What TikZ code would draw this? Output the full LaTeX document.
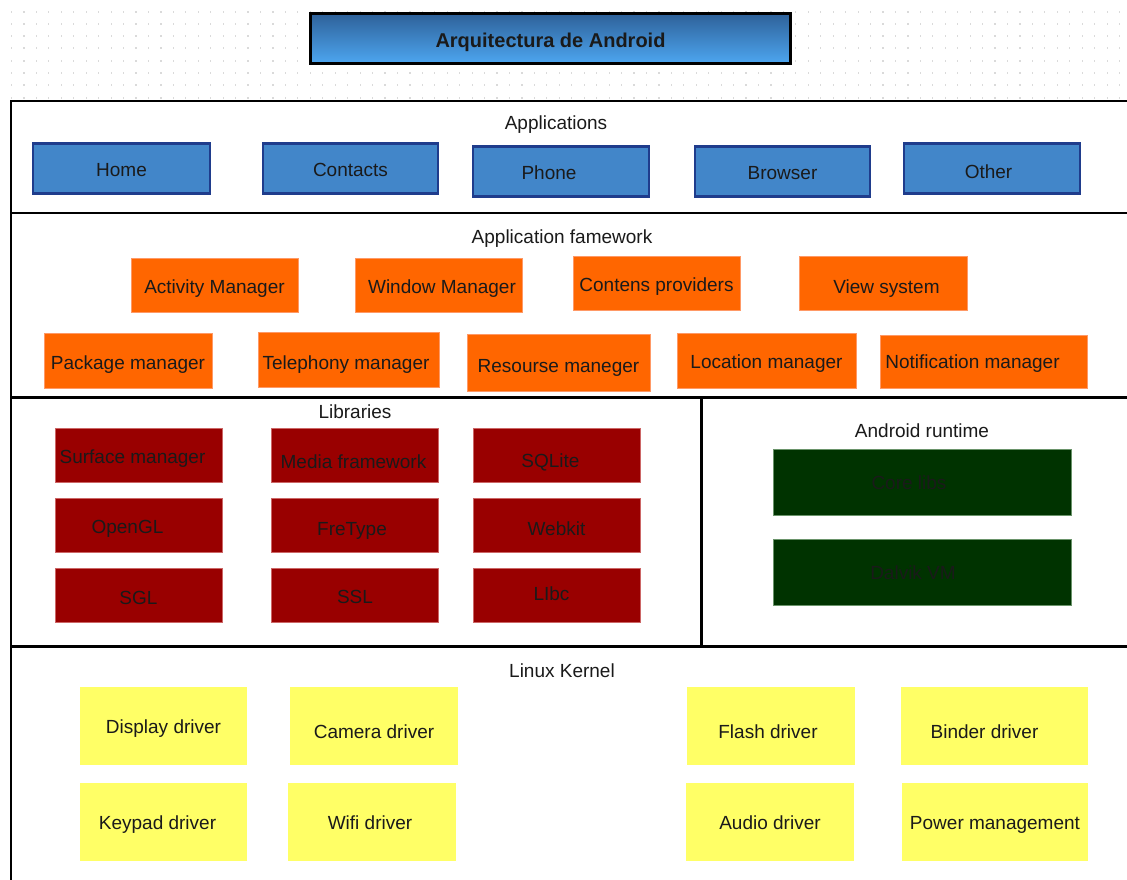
\documentclass[tikz,border=0pt]{standalone}
\usepackage{fontspec}
\setmainfont{Liberation Sans}
\definecolor{gridc}{HTML}{DADADA}
\definecolor{appfill}{HTML}{4286C9}
\definecolor{appdraw}{HTML}{1F3C8C}
\definecolor{titletop}{HTML}{2E6199}
\definecolor{titlebot}{HTML}{4DA6F0}
\definecolor{orangef}{HTML}{FF6600}
\definecolor{oranged}{HTML}{FF9966}
\definecolor{redf}{HTML}{990000}
\definecolor{redd}{HTML}{CC6666}
\definecolor{greenf}{HTML}{003300}
\definecolor{greend}{HTML}{6A946A}
\definecolor{yellowf}{HTML}{FFFF66}
\definecolor{txt}{HTML}{1A1A1A}
\tikzset{
  boxbase/.style={rectangle, inner sep=0pt, outer sep=0pt, text=txt, font=\fontsize{19}{22}\selectfont,
    text height=19.6pt, text depth=4pt},
  th/.style={text height=#1},
  shl/.style={execute at end node={\hspace*{#1}}},
  shr/.style={execute at begin node={\hspace*{#1}}},
  appbox/.style={boxbase, fill=appfill, draw=appdraw, line width=2.5pt, minimum width=175pt, minimum height=50pt},
  fwbox/.style={boxbase, fill=orangef, draw=oranged, line width=0.8pt, minimum height=54pt},
  libbox/.style={boxbase, fill=redf, draw=redd, line width=0.8pt, minimum width=167pt, minimum height=54pt},
  rtbox/.style={boxbase, fill=greenf, draw=greend, line width=0.8pt, minimum width=298pt, minimum height=66pt},
  kbox/.style={boxbase, fill=yellowf, minimum height=78pt},
  layerlabel/.style={inner sep=0pt, text=txt, font=\fontsize{19}{22}\selectfont, text height=13.6pt, text depth=4pt},
  frameline/.style={line width=2.2pt, black},
}
\begin{document}
\begin{tikzpicture}[x=1pt,y=-1pt]
\useasboundingbox (0,0) rectangle (1127,879);
\clip (0,0) rectangle (1127,879);
\fill[white] (0,0) rectangle (1127,879);
% dotted grid
\foreach \i in {0,...,90}{
  \foreach \j in {0,...,7}{
    \fill[gridc] ({11.5+12.45*\i-0.6},{11.5+12.3*\j-1}) rectangle ({11.5+12.45*\i+0.6},{11.5+12.3*\j+1});
  }
}
% title
\node[rectangle, draw=black, line width=2.5pt, top color=titletop, bottom color=titlebot,
      minimum width=480pt, minimum height=50pt, inner sep=0pt, text=txt,
      text height=22.3pt, text depth=4.2pt,
      font=\fontsize{20}{24}\selectfont\bfseries] (title) at (550.5,38.5) {Arquitectura de Android};
% frame
\fill[white] (10,100) rectangle (1140,890);
\draw[frameline] (1140,101) -- (11,101) -- (11,890);
\draw[frameline] (11,213) -- (1140,213);
\draw[frameline] (11,397.5) -- (1140,397.5);
\draw[frameline] (11,646.5) -- (1140,646.5);
\draw[frameline] (701.5,397.5) -- (701.5,646.5);
% Applications
\node[layerlabel] (lapps) at (556,125) {Applications};
\node[appbox, minimum width=177pt] (home) at (121.5,168.5) {Home};
\node[appbox] (contacts) at (350.5,168.5) {Contacts};
\node[appbox, minimum width=176pt, shl=24pt] (phone) at (561,171.5) {Phone};
\node[appbox] (browser) at (782.5,171.5) {Browser};
\node[appbox, minimum width=176pt, th=24.6pt, shl=7pt] (other) at (992,168.5) {Other};
% Application framework
\node[layerlabel] (lfw) at (562,239) {Application famework};
\node[fwbox, minimum width=167pt, th=21.6pt] (activity) at (214.5,285) {Activity Manager};
\node[fwbox, minimum width=167pt, th=21.6pt, shr=7pt] (window) at (438.5,285) {Window Manager};
\node[fwbox, minimum width=167pt, th=21.6pt] (contens) at (656.5,283) {Contens providers};
\node[fwbox, minimum width=168pt, th=25.6pt, shr=7pt] (view) at (883,283) {View system};
\node[fwbox, minimum width=168pt, minimum height=55pt, th=22.6pt] (package) at (128,360.5) {Package manager};
\node[fwbox, minimum width=181pt, minimum height=55pt, th=24.6pt, shl=5pt] (telephony) at (348.5,359.5) {Telephony manager};
\node[fwbox, minimum width=183pt, minimum height=57pt, th=24.6pt] (resourse) at (558.5,362.5) {Resourse maneger};
\node[fwbox, minimum width=179pt, minimum height=55pt] (location) at (766.5,360.5) {Location manager};
\node[fwbox, minimum width=207pt, minimum height=53pt, th=17.6pt, shl=22pt] (notification) at (983.5,361.5) {Notification manager};
% Libraries
\node[layerlabel] (llib) at (355,414) {Libraries};
\node[libbox, th=21.6pt, shl=12pt] (surface) at (138.5,455) {Surface manager};
\node[libbox, th=31.6pt, shl=3pt] (media) at (355,455) {Media framework};
\node[libbox, th=29.6pt, shl=12pt] (sqlite) at (556.5,455) {SQLite};
\node[libbox, th=21.6pt, shl=22pt] (opengl) at (138.5,525) {OpenGL};
\node[libbox, th=25.6pt, shl=6pt] (fretype) at (355,525) {FreType};
\node[libbox, th=25.6pt] (webkit) at (556.5,525) {Webkit};
\node[libbox, th=23.6pt] (sgl) at (138.5,595) {SGL};
\node[libbox, th=21.6pt] (ssl) at (355,595) {SSL};
\node[libbox, th=15.6pt, shl=10pt] (libc) at (556.5,595) {LIbc};
% Android runtime
\node[layerlabel] (lrt) at (922,433) {Android runtime};
\node[rtbox, shl=26pt] (core) at (922,482) {Core libs};
\node[rtbox, shl=18pt] (dalvik) at (922,572) {Dalvik VM};
% Linux kernel
\node[layerlabel] (lk) at (562,673) {Linux Kernel};
\node[kbox, minimum width=167pt] (display) at (163.5,726) {Display driver};
\node[kbox, minimum width=168pt, th=29.6pt] (camera) at (374,726) {Camera driver};
\node[kbox, minimum width=167pt, shl=12pt] (keypad) at (163.5,822) {Keypad driver};
\node[kbox, minimum width=168pt, shl=4pt] (wifi) at (372,822) {Wifi driver};
\node[kbox, minimum width=168pt, th=29.6pt, shl=6pt] (flash) at (771,726) {Flash driver};
\node[kbox, minimum width=187pt, th=29.6pt, shl=20pt] (binder) at (994.5,726) {Binder driver};
\node[kbox, minimum width=168pt] (audio) at (770,822) {Audio driver};
\node[kbox, minimum width=186pt] (power) at (995,822) {Power management};
\end{tikzpicture}
\end{document}
